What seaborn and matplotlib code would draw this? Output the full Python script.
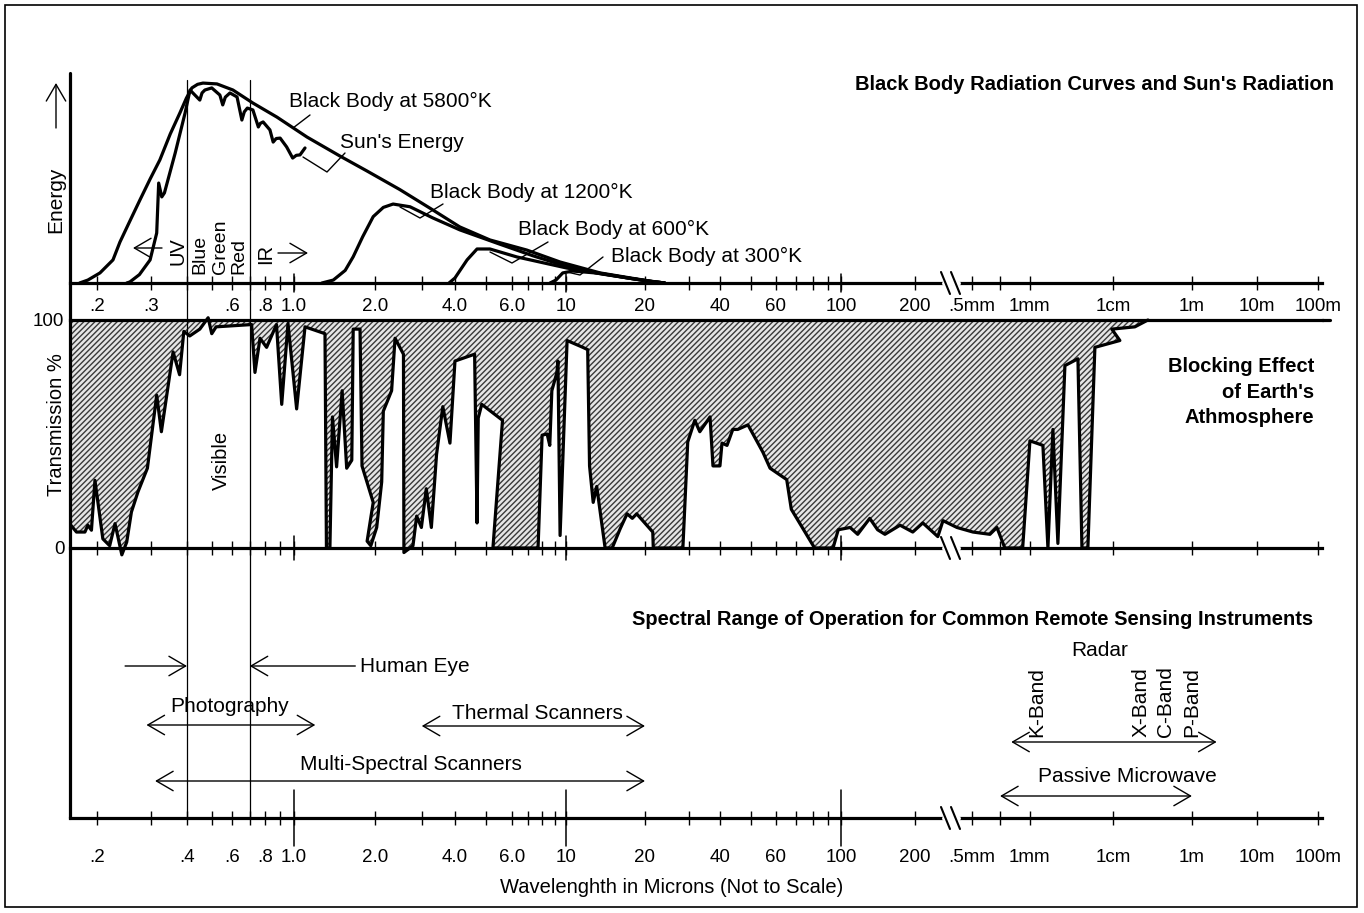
import numpy as np
import matplotlib
matplotlib.use("Agg")
import matplotlib.pyplot as plt
import seaborn as sns
from matplotlib.lines import Line2D
from matplotlib.patches import FancyArrowPatch, Rectangle
from matplotlib.ticker import FixedLocator, FixedFormatter, NullFormatter
from matplotlib.transforms import blended_transform_factory

# ---------------- data ----------------
# wavelength axis (microns), not to scale: anchor wavelengths of the printed axis
axis_wl = [0.164, 0.2, 0.3, 0.4, 0.6, 0.8, 1.0, 2.0, 4.0, 6.0, 10, 20, 40, 60, 100,
           200, 500, 1e3, 1e4, 1e6, 1e7, 1e8, 1.6e8]

top_ticks = [0.2, 0.3, 0.6, 0.8, 1.0, 2.0, 4.0, 6.0, 10, 20, 40, 60, 100, 200, 500,
             1e3, 1e4, 1e6, 1e7, 1e8]
top_labels = ['.2', '.3', '.6', '.8', '1.0', '2.0', '4.0', '6.0', '10', '20', '40', '60',
              '100', '200', '.5mm', '1mm', '1cm', '1m', '10m', '100m']
bot_ticks = [0.2, 0.4, 0.6, 0.8, 1.0, 2.0, 4.0, 6.0, 10, 20, 40, 60, 100, 200, 500,
             1e3, 1e4, 1e6, 1e7, 1e8]
bot_labels = ['.2', '.4', '.6', '.8', '1.0', '2.0', '4.0', '6.0', '10', '20', '40', '60',
              '100', '200', '.5mm', '1mm', '1cm', '1m', '10m', '100m']
minor_ticks = [0.3, 0.4, 0.5, 0.7, 0.9, 3, 5, 7, 8, 9, 30, 50, 70, 80, 90, 700]
long_ticks = [1.0, 10, 100]

# black body / sun energy curves (relative energy, 0-100)
bb5800_wl = [0.176, 0.187, 0.2045, 0.2255, 0.2376, 0.256, 0.276, 0.298, 0.322, 0.35,
             0.378, 0.398, 0.418, 0.44, 0.462, 0.524, 0.605, 0.72, 0.877, 1.118, 1.48,
             1.87, 2.48, 3.3, 4.14, 5.13, 6.9, 9.46, 13.5, 17.6, 21, 24]
bb5800_e = [0, 1.4, 4.8, 11, 19.5, 29.5, 39.5, 49.5, 58.6, 71,
            81, 88, 92.9, 94.6, 95.2, 94.8, 91.9, 85.7, 79, 69.5, 60.5,
            53.3, 44.5, 34.8, 26.7, 20.5, 15.7, 10, 4.8, 2.4, 0.9, 0]

sun_wl = [0.25, 0.256, 0.275, 0.298, 0.314, 0.319, 0.327, 0.334, 0.364, 0.394, 0.411,
          0.449, 0.458, 0.47, 0.5, 0.538, 0.552, 0.565, 0.589, 0.627, 0.654, 0.668,
          0.686, 0.72, 0.755, 0.768, 0.787, 0.831, 0.852, 0.872, 0.899, 0.945, 0.99,
          1.02, 1.053, 1.099]
sun_e = [0, 0.5, 4, 11, 23.8, 47.6, 41, 42.9, 61.9, 81, 91.9,
         87.1, 90.5, 91.9, 92.9, 89.5, 84.8, 88.5, 90.5, 88.6, 77.6, 81.5,
         83.3, 82.4, 74.3, 76, 76.7, 72.9, 67.1, 68.8, 69, 64.8, 59.5,
         60.8, 61, 64.3]

bb1200_wl = [1.27, 1.40, 1.55, 1.66, 1.80, 1.97, 2.15, 2.34, 2.71, 3.3, 4.14, 5.5, 7.3,
             10, 13.5, 17.6, 21, 24]
bb1200_e = [0, 1.4, 6, 12.5, 22, 31.6, 36, 37.6, 36.3, 31, 25.3, 18.5, 13,
            8, 4.4, 2.2, 0.8, 0]

bb600_wl = [3.8, 4.0, 4.36, 4.68, 5.13, 6.29, 10.1, 17.6, 21, 24]
bb600_e = [0, 2.4, 11, 16.2, 16.2, 12.4, 7.1, 2.2, 0.8, 0]

bb300_wl = [8.6, 9.1, 9.7, 10.6, 13.5, 17.6, 21, 24]
bb300_e = [0, 1.4, 4.8, 5.7, 4.6, 2.2, 0.8, 0]

# atmospheric transmission (%)
trans_wl = [0.165, 0.172, 0.183, 0.187, 0.192, 0.197, 0.209, 0.22, 0.229, 0.241, 0.25,
            0.259, 0.272, 0.292, 0.314, 0.326, 0.358, 0.377, 0.39, 0.41, 0.449, 0.484,
            0.5, 0.52, 0.712, 0.733, 0.766, 0.81, 0.874, 0.91, 0.955, 1.023, 1.099,
            1.304, 1.32, 1.36, 1.39, 1.44, 1.51, 1.57, 1.64, 1.66, 1.76, 1.79, 1.97,
            1.87, 1.93, 2.03, 2.12, 2.15, 2.31, 2.38, 2.56, 2.57, 2.78, 2.87, 2.99,
            3.12, 3.26, 3.41, 3.6, 3.83, 4.0, 4.6, 4.68, 4.72, 4.84, 5.61, 5.24,
            7.68, 7.98, 8.37, 8.58, 8.75, 9.18, 9.27, 9.46, 10.1, 11.6, 12.1, 12.3,
            12.7, 13.1, 14.1, 15.0, 16.1, 17.1, 17.9, 18.6, 21.5, 21.6, 28.4, 29.7,
            31.7, 33.2, 36.5, 37.5, 40, 40.6, 42.1, 43.9, 45.5, 49, 54.6, 57.5, 65.3,
            67.7, 81.3, 94, 97.9, 109, 117, 131, 141, 151, 174, 196, 227, 289, 314,
            393, 506, 620, 674, 741, 917, 1000, 1434, 1648, 1893, 2173, 2640, 3789,
            4234, 4993, 6065, 15000, 9700, 36000, 77000]
trans_t = [10, 7, 7, 10, 7.8, 29.7, 4, 1, 10.7, -3, 2.6,
           15.8, 24.6, 35, 67, 51, 86, 76, 95, 93, 96, 101,
           94, 97, 98, 77, 92, 88, 98, 63, 98.5, 61, 97,
           94, 0, 0, 57.5, 35.6, 69, 35, 38.5, 96, 96, 36, 20,
           3, 1, 9, 29, 60, 69, 92, 85, -2, 1, 14, 9,
           26, 9, 41, 62, 46, 82, 85, 11, 57, 63, 56, 0,
           0, 49.5, 50, 45, 69, 77, 82, 5.5, 91, 88, 87, 36,
           20, 27, 0, 0, 8.5, 15, 13, 15, 7, 0, 0, 46.5,
           56, 51, 57.5, 36, 36, 46, 45, 52, 52, 54, 42, 35, 30,
           17, 0, 0, 8, 9, 6, 13, 8, 6, 10, 7, 11, 5, 12,
           9, 7, 6, 9, 0, 0, 47, 45, 0, 52, 2, 80, 83,
           0, 0, 88, 91, 96, 97, 100]

# instruments: spectral range in microns
inst_names = ['Photography', 'Thermal Scanners', 'Multi-Spectral Scanners', 'Radar',
              'Passive Microwave']
inst_start = [0.29, 3.0, 0.31, 800, 700]
inst_end = [1.2, 20, 20, 2.4e6, 1e6]
eye_range = [0.4, 0.7]
radar_bands = ['K-Band', 'X-Band', 'C-Band', 'P-Band']

# ---------------- layout helpers ----------------
sns.set_theme(style="white")
plt.rcParams['font.family'] = ['Liberation Sans', 'DejaVu Sans']
plt.rcParams['hatch.linewidth'] = 1.0

W, H = 1364, 913
axis_pos = [70, 97, 151, 187, 232, 265, 294, 375, 455, 512, 566, 645, 720, 776, 841,
            915, 972, 1030, 1113, 1192, 1257, 1318, 1331]
log_wl = np.log10(axis_wl)


def fwd(w):
    return np.interp(np.log10(np.maximum(np.asarray(w, dtype=float), 1e-9)), log_wl, axis_pos)


def inv(p):
    return 10 ** np.interp(np.asarray(p, dtype=float), axis_pos, log_wl)


fig = plt.figure(figsize=(W / 100, H / 100), dpi=100)
fig.patch.set_facecolor('white')


def add_ax(top, bottom):
    ax = fig.add_axes([70 / W, 1 - bottom / H, (1322 - 70) / W, (bottom - top) / H])
    ax.set_xscale('function', functions=(fwd, inv))
    ax.patch.set_alpha(0)
    return ax


def ftext(x, y, s, **kw):
    kw.setdefault('fontsize', 15)
    kw.setdefault('color', 'black')
    fig.text(x / W, 1 - y / H, s, **kw)


def fline(xs, ys, lw=1.0, color='black', **kw):
    fig.add_artist(Line2D([x / W for x in xs], [1 - y / H for y in ys],
                          transform=fig.transFigure, color=color, lw=lw, **kw))


def farrow(x0, y0, x1, y1):
    fig.add_artist(FancyArrowPatch((x0 / W, 1 - y0 / H), (x1 / W, 1 - y1 / H),
                                   transform=fig.transFigure,
                                   arrowstyle='->,head_length=0.6,head_width=0.35',
                                   mutation_scale=20, lw=1.0, color='black',
                                   shrinkA=0, shrinkB=0))


ax_top = add_ax(73, 283)
ax_mid = add_ax(320, 548)
ax_bot = add_ax(548, 818)

# ---------------- top: black body curves ----------------
line_kw = dict(color='black', lw=2.3, sort=False, estimator=None, legend=False)
sns.lineplot(x=bb5800_wl, y=bb5800_e, ax=ax_top, **line_kw)
sns.lineplot(x=sun_wl, y=sun_e, ax=ax_top, **line_kw)
sns.lineplot(x=bb1200_wl, y=bb1200_e, ax=ax_top, **line_kw)
sns.lineplot(x=bb600_wl, y=bb600_e, ax=ax_top, **line_kw)
sns.lineplot(x=bb300_wl, y=bb300_e, ax=ax_top, **line_kw)
ax_top.set_ylim(0, 100)

# ---------------- middle: transmission ----------------
poly_x = list(trans_wl) + [trans_wl[-1], trans_wl[0]]
poly_y = list(trans_t) + [100, 100]
ax_mid.fill(poly_x, poly_y, facecolor='#e6e6e6', edgecolor='#3a3a3a', hatch='//////',
            lw=0, zorder=1)
sns.lineplot(x=trans_wl, y=trans_t, ax=ax_mid, clip_on=False, **line_kw)
ax_mid.set_ylim(0, 100)
ax_mid.set_yticks([0, 100])
ax_mid.set_yticklabels(['0', '100'])
ax_mid.tick_params(axis='y', left=True, length=0, pad=4, labelsize=13.5, labelcolor='black')

ax_bot.set_ylim(0, 1)

# ---------------- axes styling ----------------
for ax, labels, ticks in ((ax_top, top_labels, top_ticks), (ax_mid, None, bot_ticks),
                          (ax_bot, bot_labels, bot_ticks)):
    ax.set_xlim(axis_wl[0], 1.16e8)
    ax.set_xlabel('')
    ax.set_ylabel('')
    ax.xaxis.set_major_locator(FixedLocator(ticks))
    ax.xaxis.set_minor_locator(FixedLocator(minor_ticks))
    ax.xaxis.set_minor_formatter(NullFormatter())
    if labels is None:
        ax.xaxis.set_major_formatter(NullFormatter())
    else:
        ax.xaxis.set_major_formatter(FixedFormatter(labels))
    ax.tick_params(axis='x', which='both', bottom=True, direction='inout', length=10,
                   width=1, color='black', labelsize=13.5, labelcolor='black')
    for s in ('left', 'right', 'top'):
        ax.spines[s].set_visible(False)
    ax.spines['bottom'].set_visible(True)
    ax.spines['bottom'].set_color('black')
    ax.spines['bottom'].set_linewidth(2.3)
    if ax is not ax_mid:
        ax.set_yticks([])

ax_top.tick_params(axis='x', pad=6)
ax_bot.tick_params(axis='x', pad=17)
ax_mid.spines['top'].set_visible(True)
ax_mid.spines['top'].set_color('black')
ax_mid.spines['top'].set_linewidth(2.3)
fline([1322, 1330], [320, 320], lw=2.3)

# long ticks at decades
for ax, half, frac_h in ((ax_bot, 28, 270), (ax_mid, 12, 228), (ax_top, 9, 210)):
    tr = blended_transform_factory(ax.transData, ax.transAxes)
    for w in long_ticks:
        ax.plot([w, w], [-half / frac_h, half / frac_h], transform=tr, color='black',
                lw=1.1, clip_on=False)

# continuous left axis line and outer frame
fline([70, 70], [73, 818], lw=2.3)
fig.add_artist(Rectangle((5 / W, 1 - 907 / H), 1352 / W, 902 / H, fill=False,
                         transform=fig.transFigure, lw=1.2, edgecolor='black'))

# axis breaks
for y0 in (283, 548, 818):
    fline([944, 958], [y0, y0], lw=3.5, color='white')
    fline([941, 950], [y0 - 11, y0 + 11], lw=1.5)
    fline([951, 960], [y0 - 11, y0 + 11], lw=1.5)

# visible band limits
trv = blended_transform_factory(ax_bot.transData, fig.transFigure)
for w in eye_range:
    fig.add_artist(Line2D([w, w], [1 - 80 / H, 1 - 818 / H], transform=trv,
                          color='black', lw=0.9))

# ---------------- top panel texts ----------------
ftext(1334, 85, "Black Body Radiation Curves and Sun's Radiation", ha='right',
      va='center', fontweight='bold', fontsize=14.5)
ftext(289, 101, 'Black Body at 5800°K', ha='left', va='center')
fline([310, 293], [115, 128])
ftext(340, 143, "Sun's Energy", ha='left', va='center')
fline([345, 327, 303], [153, 172, 157])
ftext(430, 192, 'Black Body at 1200°K', ha='left', va='center')
fline([443, 420, 400], [204, 218, 207])
ftext(518, 229, 'Black Body at 600°K', ha='left', va='center')
fline([548, 512, 490], [242, 263, 252])
ftext(611, 256, 'Black Body at 300°K', ha='left', va='center')
fline([603, 580, 567], [257, 275, 272])

ftext(56, 200, 'Energy', rotation=90, ha='center', va='center', fontsize=15)
farrow(56, 128, 56, 83)
ftext(178, 251, 'UV', rotation=90, ha='center', va='center', fontsize=14.5)
farrow(162, 248, 133, 248)
for name, x in zip(['Blue', 'Green', 'Red'], [200, 221, 239]):
    ftext(x, 274, name, rotation=90, ha='center', va='bottom', fontsize=14)
ftext(266, 254, 'IR', rotation=90, ha='center', va='center', fontsize=14.5)
farrow(278, 253, 308, 253)

# ---------------- middle panel texts ----------------
ftext(56, 425, 'Transmission %', rotation=90, ha='center', va='center', fontsize=14.5)
ftext(221, 460, 'Visible', rotation=90, ha='center', va='center', fontsize=14.5)
ftext(1314, 392, "Blocking Effect\nof Earth's\nAthmosphere", ha='right', va='center',
      fontweight='bold', fontsize=14.5, linespacing=1.45)

# ---------------- bottom panel: instruments ----------------
ftext(1313, 619, 'Spectral Range of Operation for Common Remote Sensing Instruments',
      ha='right', va='center', fontweight='bold', fontsize=14.5)
trb = blended_transform_factory(ax_bot.transData, ax_bot.transAxes)


def row(y):
    return (818 - y) / 270


def range_arrow(w0, w1, y, style='<->'):
    ax_bot.add_patch(FancyArrowPatch((w0, row(y)), (w1, row(y)), transform=trb,
                                     arrowstyle=style + ',head_length=0.6,head_width=0.35',
                                     mutation_scale=20, lw=1.0, color='black',
                                     shrinkA=0, shrinkB=0, clip_on=False))


inst_rows = [725, 726, 781, 742, 796]
inst_text = [(230, 706), (537, 713), (411, 764), (1100, 650), (1127, 777)]
for name, w0, w1, y, (tx, ty) in zip(inst_names, inst_start, inst_end, inst_rows, inst_text):
    range_arrow(w0, w1, y)
    ftext(tx, ty, name, ha='center', va='center')

# human eye
range_arrow(0.247, eye_range[0], 666, style='->')
range_arrow(1.69, eye_range[1], 666, style='->')
ftext(360, 666, 'Human Eye', ha='left', va='center')

for band, x in zip(radar_bands, [1037, 1141, 1166, 1192]):
    ftext(x, 737, band, rotation=90, ha='center', va='bottom', fontsize=15)

ftext(672, 887, 'Wavelenghth in Microns (Not to Scale)', ha='center', va='center',
      fontsize=14.5)

fig.savefig('out.png', dpi=100)
